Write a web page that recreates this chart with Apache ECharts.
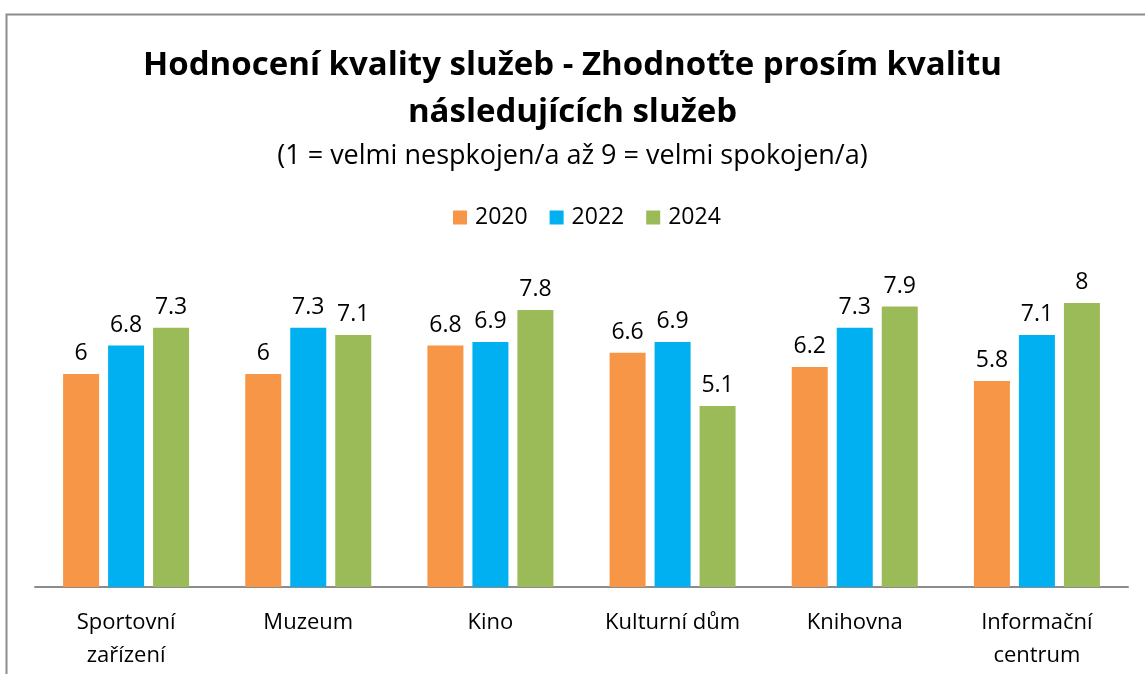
<!DOCTYPE html>
<html>
<head>
<meta charset="utf-8">
<script src="https://cdn.jsdelivr.net/npm/echarts@6/dist/echarts.min.js"></script>
<style>
  html, body { margin: 0; padding: 0; background: #fff; }
  #chart { width: 1145px; height: 674px; }
</style>
</head>
<body>
<div id="chart"></div>
<script>
// categories and values
var categories = ['Sportovní\nzařízení', 'Muzeum', 'Kino', 'Kulturní dům', 'Knihovna', 'Informační\ncentrum']
var years = ['2020', '2022', '2024']
var values2020 = [6, 6, 6.8, 6.6, 6.2, 5.8]
var values2022 = [6.8, 7.3, 6.9, 6.9, 7.3, 7.1]
var values2024 = [7.3, 7.1, 7.8, 5.1, 7.9, 8]
var colors = ['#F79646', '#00B0F0', '#9BBB59']

var font = '"Open Sans", "Noto Sans", sans-serif'

var chart = echarts.init(document.getElementById('chart'))

function makeSeries(name, data, color) {
  return {
    name: name,
    type: 'bar',
    data: data,
    barWidth: 36,
    barGap: '25%',
    itemStyle: { color: color },
    label: {
      show: true,
      position: 'top',
      distance: 9,
      color: '#000',
      fontSize: 23,
      fontFamily: font
    }
  }
}

chart.setOption({
  animation: false,
  title: [
    {
      text: 'Hodnocení kvality služeb - Zhodnoťte prosím kvalitu\nnásledujících služeb',
      left: 'center',
      top: 37,
      textStyle: {
        fontFamily: font,
        fontSize: 33,
        fontWeight: 'bold',
        color: '#000',
        lineHeight: 47
      }
    },
    {
      text: '(1 = velmi nespkojen/a až 9 = velmi spokojen/a)',
      left: 'center',
      top: 138,
      textStyle: {
        fontFamily: font,
        fontSize: 27,
        fontWeight: 'normal',
        color: '#000'
      }
    }
  ],
  legend: {
    data: years,
    top: 201,
    left: 448,
    itemWidth: 14,
    itemHeight: 14,
    itemGap: 22,
    icon: 'rect',
    textStyle: { fontFamily: font, fontSize: 23, color: '#000', padding: [0, 0, 0, 3] }
  },
  graphic: [
    {
      type: 'rect',
      shape: { x: 6.5, y: 14.5, width: 1160, height: 700 },
      style: { fill: 'none', stroke: '#8c8c8c', lineWidth: 2 },
      silent: true
    }
  ],
  grid: {
    left: 35,
    right: 17,
    top: 267.5,
    bottom: 87
  },
  xAxis: {
    type: 'category',
    data: categories,
    axisLine: { lineStyle: { color: '#8c8c8c', width: 2 } },
    axisTick: { show: false },
    axisLabel: {
      color: '#000',
      fontFamily: font,
      fontSize: 22,
      lineHeight: 33,
      margin: 19,
      interval: 0
    }
  },
  yAxis: {
    type: 'value',
    min: 0,
    max: 9,
    show: false,
    splitLine: { show: false }
  },
  series: [
    makeSeries(years[0], values2020, colors[0]),
    makeSeries(years[1], values2022, colors[1]),
    makeSeries(years[2], values2024, colors[2])
  ]
})
</script>
</body>
</html>
